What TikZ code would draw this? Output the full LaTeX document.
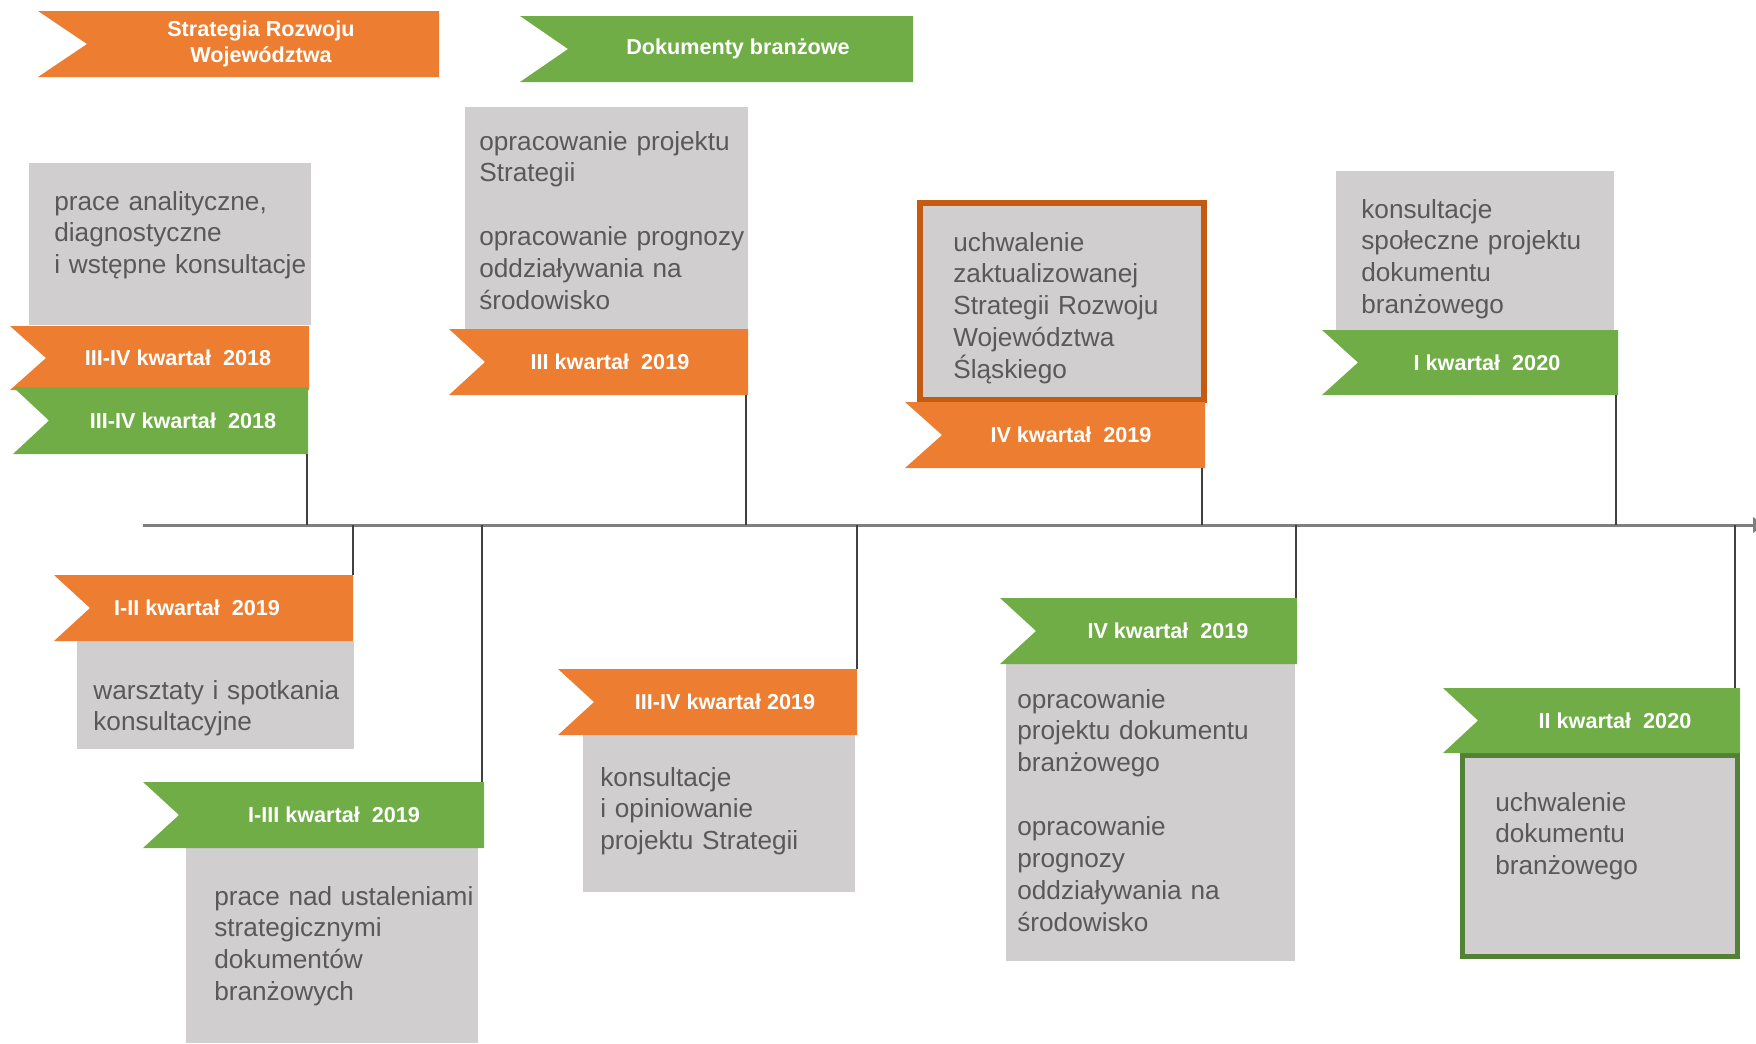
\documentclass[tikz,border=0pt]{standalone}
\usepackage{fontspec}
\setmainfont{Liberation Sans}
\usetikzlibrary{arrows.meta}
\definecolor{orflag}{HTML}{ED7D31}
\definecolor{grflag}{HTML}{70AD47}
\definecolor{boxgrey}{HTML}{D0CECE}
\definecolor{txtgrey}{HTML}{595959}
\definecolor{orline}{HTML}{C55A11}
\definecolor{grline}{HTML}{538135}
\definecolor{axisgrey}{HTML}{7F7F7F}
\tikzset{
  orange flag/.style={fill=orflag},
  green flag/.style={fill=grflag},
  flagtext/.style={text=white,font=\bfseries\fontsize{12.3}{14.8}\selectfont,align=center,inner sep=0pt},
  boxtext/.style={text=txtgrey,font=\fontsize{14.9}{18.2}\selectfont,text width=10cm,align=left,anchor=base west,inner sep=0pt},
  greybox/.style={fill=boxgrey},
  axisline/.style={draw=axisgrey,line width=0.6mm,-{Triangle[length=2.4mm,width=3mm]}},
  tick/.style={draw=black!75,line width=0.25mm}
}
\begin{document}
\begin{tikzpicture}[x=0.2mm,y=-0.2mm]
\useasboundingbox (0,0) rectangle (1756,1043);
% time axis
\coordinate (ax0) at (143,525);
\coordinate (ax1) at (1765,525);
\draw[axisline] (ax0) -- (ax1);
% legend
\fill[orange flag] (38,11) -- (439,11) -- (439,77) -- (38,77) -- (87,44) -- cycle;
\node[flagtext] (strat) at (261,44) {Strategia Rozwoju\\Województwa};
\fill[green flag] (520,16) -- (913,16) -- (913,82) -- (520,82) -- (568,49) -- cycle;
\node[flagtext] (dok) at (738,49) {Dokumenty branżowe};
% boxes above the axis
\fill[greybox] (29,163) rectangle (311,325);
\node[boxtext] (analiza) at (54,210) {prace analityczne,\\diagnostyczne\\i wstępne konsultacje};
\fill[greybox] (465,107) rectangle (748,330);
\node[boxtext] (projekt) at (479,150) {opracowanie projektu\\Strategii\\[18.2pt]opracowanie prognozy\\oddziaływania na\\środowisko};
\filldraw[greybox,draw=orline,line width=1.2mm] (920,203) rectangle (1204,400);
\node[boxtext] (uchwS) at (953,251) {uchwalenie\\zaktualizowanej\\Strategii Rozwoju\\Województwa\\Śląskiego};
\fill[greybox] (1336,171) rectangle (1614,330);
\node[boxtext] (konsD) at (1361,218) {konsultacje\\społeczne projektu\\dokumentu\\branżowego};
% boxes below the axis
\fill[greybox] (77,641) rectangle (354,749);
\node[boxtext] (warsz) at (93,699) {warsztaty i spotkania\\konsultacyjne};
\fill[greybox] (186,848) rectangle (478,1043);
\node[boxtext] (ustal) at (214,905) {prace nad ustaleniami\\strategicznymi\\dokumentów\\branżowych};
\fill[greybox] (583,735) rectangle (855,892);
\node[boxtext] (opin) at (600,786) {konsultacje\\i opiniowanie\\projektu Strategii};
\fill[greybox] (1006,664) rectangle (1295,961);
\node[boxtext] (projD) at (1017,708) {opracowanie\\projektu dokumentu\\branżowego\\[18.2pt]opracowanie\\prognozy\\oddziaływania na\\środowisko};
\filldraw[greybox,draw=grline,line width=1mm] (1462.5,755.5) rectangle (1737.5,956.5);
\node[boxtext] (uchwD) at (1495,811) {uchwalenie\\dokumentu\\branżowego};
% flags above the axis
\fill[orange flag] (10,326) -- (309,326) -- (309,390) -- (10,390) -- (46,358) -- cycle;
\node[flagtext] (q18s) at (178,358) {III-IV kwartał~~2018};
\fill[green flag] (13,387) -- (308,387) -- (308,454) -- (13,454) -- (49,420.5) -- cycle;
\node[flagtext] (q18d) at (183,420.5) {III-IV kwartał~~2018};
\coordinate (c18) at (307,454);
\fill[orange flag] (449,329) -- (748,329) -- (748,395) -- (449,395) -- (485,362) -- cycle;
\node[flagtext] (q19s3) at (610,362) {III kwartał~~2019};
\coordinate (c19s3) at (746,395);
\fill[orange flag] (905,402) -- (1205,402) -- (1205,468) -- (905,468) -- (942,435) -- cycle;
\node[flagtext] (q19s4) at (1071,435) {IV kwartał~~2019};
\coordinate (c19s4) at (1202,468);
\fill[green flag] (1322,330) -- (1618,330) -- (1618,395) -- (1322,395) -- (1358,362.5) -- cycle;
\node[flagtext] (q20d1) at (1487,362.5) {I kwartał~~2020};
\coordinate (c20d1) at (1616,395);
% flags below the axis
\fill[orange flag] (54,575) -- (353,575) -- (353,641) -- (54,641) -- (90,608) -- cycle;
\node[flagtext] (q19s12) at (197,608) {I-II kwartał~~2019};
\coordinate (c19s12) at (353,575);
\fill[green flag] (143,782) -- (484,782) -- (484,848) -- (143,848) -- (179,815) -- cycle;
\node[flagtext] (q19d13) at (334,815) {I-III kwartał~~2019};
\coordinate (c19d13) at (482,782);
\fill[orange flag] (558,669) -- (857,669) -- (857,735) -- (558,735) -- (594,702) -- cycle;
\node[flagtext] (q19s34) at (725,702) {III-IV kwartał 2019};
\coordinate (c19s34) at (857,669);
\fill[green flag] (1000,598) -- (1297,598) -- (1297,664) -- (1000,664) -- (1036,631) -- cycle;
\node[flagtext] (q19d4) at (1168,631) {IV kwartał~~2019};
\coordinate (c19d4) at (1296,598);
\fill[green flag] (1443,688) -- (1740,688) -- (1740,753) -- (1443,753) -- (1478,720.5) -- cycle;
\node[flagtext] (q20d2) at (1615,720.5) {II kwartał~~2020};
\coordinate (c20d2) at (1735,688);
% ticks to the axis
\draw[tick] (c18) -- (c18 |- ax0);
\draw[tick] (c19s3) -- (c19s3 |- ax0);
\draw[tick] (c19s4) -- (c19s4 |- ax0);
\draw[tick] (c20d1) -- (c20d1 |- ax0);
\draw[tick] (c19s12) -- (c19s12 |- ax0);
\draw[tick] (c19d13) -- (c19d13 |- ax0);
\draw[tick] (c19s34) -- (c19s34 |- ax0);
\draw[tick] (c19d4) -- (c19d4 |- ax0);
\draw[tick] (c20d2) -- (c20d2 |- ax0);
\end{tikzpicture}
\end{document}
